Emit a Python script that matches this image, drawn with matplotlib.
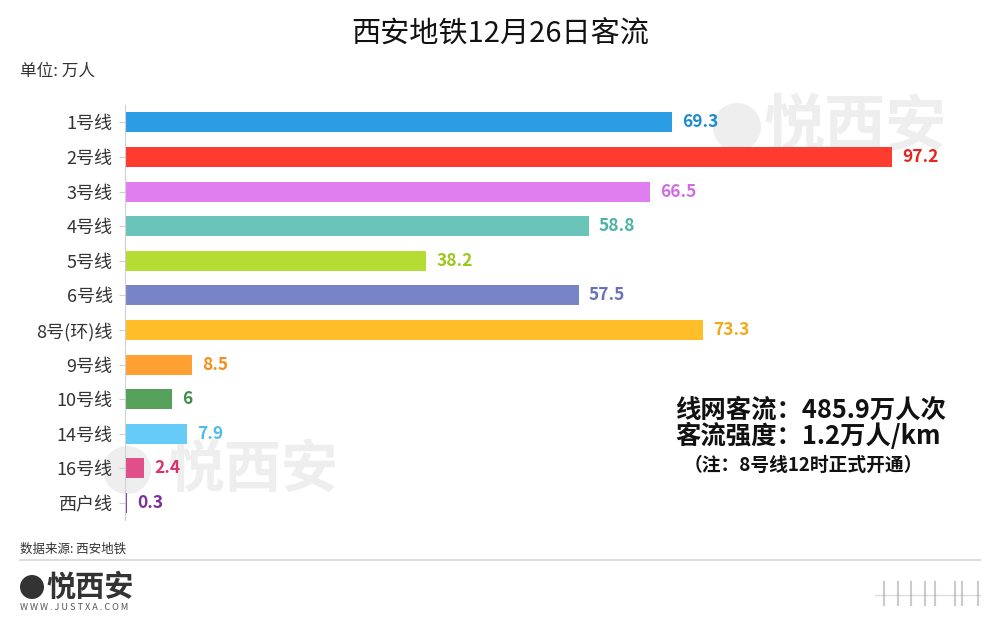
import matplotlib
matplotlib.use('Agg')
import matplotlib.pyplot as plt
from matplotlib.patches import Ellipse

plt.rcParams['font.family'] = ['Noto Sans CJK SC', 'DejaVu Sans']

lines = ['1号线', '2号线', '3号线', '4号线', '5号线', '6号线', '8号(环)线',
         '9号线', '10号线', '14号线', '16号线', '西户线']
flow = [69.3, 97.2, 66.5, 58.8, 38.2, 57.5, 73.3, 8.5, 6, 7.9, 2.4, 0.3]
flow_text = ['69.3', '97.2', '66.5', '58.8', '38.2', '57.5', '73.3', '8.5', '6', '7.9', '2.4', '0.3']
bar_colors = ['#2A9DE5', '#FF3A2E', '#E07EF0', '#6BC4B9', '#B4DC33', '#7884C8',
              '#FFBD2A', '#FFA132', '#55A05B', '#66CBF6', '#E04F89', '#8B3FA8']
label_colors = ['#1F8AD0', '#E8231B', '#D06BE3', '#4DB3A6', '#9DC61E', '#6572BB',
                '#F2A915', '#F58F1C', '#3F8E46', '#4BBDEE', '#D8336F', '#7A2E99']

W, H = 1000, 626
fig = plt.figure(figsize=(10, 6.26), dpi=100)


def circle(px, py, r, color, z=0):
    # circle given in pixels from top-left
    e = Ellipse((px / W, 1 - py / H), 2 * r / W, 2 * r / H, transform=fig.transFigure,
                facecolor=color, edgecolor='none', zorder=z)
    fig.patches.append(e)


# watermarks (behind the axes)
for cx, cy, tx, fs in [(737, 127, 764, 44), (127, 470, 168, 41)]:
    circle(cx, cy, 24, '#eeeeee')
    fig.text(tx / W, 1 - cy / H, '悦西安', fontsize=fs, fontweight='bold', color='#eeeeee',
             va='center', ha='left', zorder=0)

ax = fig.add_axes([0.125, 0.169, 0.855, 0.663])
ax.set_zorder(1)
ax.set_facecolor('none')

y = list(range(len(lines)))
ax.barh(y, flow, height=0.58, color=bar_colors, zorder=2)
for yi, v, t, c in zip(y, flow, flow_text, label_colors):
    ax.text(v + 1.3, yi, t, va='center', ha='left', fontsize=12.5,
            fontweight='bold', color=c, zorder=3)

ax.set_ylim(len(lines) - 0.5, -0.5)
ax.set_xlim(0, 108.4)
ax.set_yticks(y)
ax.set_yticklabels(lines, fontsize=13, color='#333333')
ax.set_xticks([])
for s in ['top', 'right', 'bottom']:
    ax.spines[s].set_visible(False)
ax.spines['left'].set_color('#d0d0d0')
ax.tick_params(axis='y', length=4, color='#d0d0d0', pad=5)

fig.text(0.5, 0.944, '西安地铁12月26日客流', ha='center', va='center',
         fontsize=21, color='#111111')
fig.text(0.02, 0.886, '单位: 万人', ha='left', va='center', fontsize=12, color='#333333')

fig.text(0.675, 0.345, '线网客流：485.9万人次', ha='left', va='center',
         fontsize=18.3, fontweight='bold', color='#111111')
fig.text(0.675, 0.303, '客流强度：1.2万人/km', ha='left', va='center',
         fontsize=18.3, fontweight='bold', color='#111111')
fig.text(0.684, 0.257, '（注：8号线12时正式开通）', ha='left', va='center',
         fontsize=13.5, fontweight='bold', color='#111111')

fig.text(0.02, 0.122, '数据来源: 西安地铁', ha='left', va='center', fontsize=9, color='#333333')
fig.add_artist(plt.Line2D([0.02, 0.98], [0.105, 0.105], transform=fig.transFigure,
                          color='#dddddd', linewidth=1.5))
circle(32, 587, 12, '#333333')
fig.text(0.046, 1 - 587 / H, '悦西安', ha='left', va='center', fontsize=21,
         fontweight='bold', color='#333333')
fig.text(0.02, 1 - 607 / H, 'W W W . J U S T X A . C O M', ha='left', va='center',
         fontsize=6.6, color='#555555')

# faint scan-like marks at bottom right
fig.add_artist(plt.Line2D([0.875, 0.98], [1 - 595 / H, 1 - 595 / H], transform=fig.transFigure,
                          color='#dddddd', linewidth=1))
for gx in [884, 898, 911, 925, 935, 955, 962, 978]:
    fig.add_artist(plt.Line2D([gx / W, gx / W], [1 - 582 / H, 1 - 605 / H],
                              transform=fig.transFigure, color='#999999', linewidth=1.5, alpha=0.5))

fig.savefig('out.png', dpi=100, facecolor='white')
